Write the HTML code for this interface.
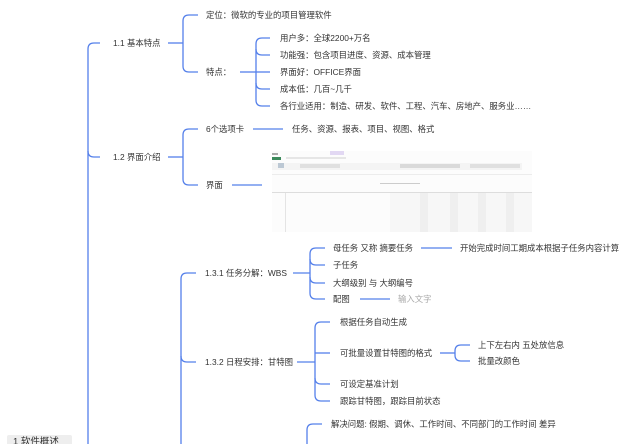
<!DOCTYPE html>
<html><head><meta charset="utf-8"><style>
html,body{margin:0;padding:0;background:#fff;width:640px;height:444px;overflow:hidden}
svg{display:block}
text{font-family:"Liberation Sans","Noto Sans CJK SC",sans-serif;font-size:8.4px;fill:#333;dominant-baseline:central}
path,line{stroke:#5580ea;stroke-width:1.3;fill:none}
</style></head><body>
<svg width="640" height="444" viewBox="0 0 640 444" xmlns="http://www.w3.org/2000/svg">
<path d="M100,43 H94 Q88,43 88,49 V444"/>
<path d="M88,151 Q88,157 94,157 H100"/>
<text x="113" y="43">1.1 基本特点</text>
<path d="M168,43 H183"/>
<path d="M198,15 H189 Q183,15 183,21 V66 Q183,72 189,72 H198"/>
<text x="206" y="15">定位：微软的专业的项目管理软件</text>
<text x="206" y="72">特点：</text>
<path d="M240,72 H256"/>
<path d="M270,38 H262 Q256,38 256,44 V100 Q256,106 262,106 H270"/>
<path d="M256,49 Q256,55 262,55 H270"/>
<path d="M256,72 H270"/>
<path d="M256,83 Q256,89 262,89 H270"/>
<text x="280" y="38">用户多：全球2200+万名</text>
<text x="280" y="55">功能强：包含项目进度、资源、成本管理</text>
<text x="280" y="72">界面好：OFFICE界面</text>
<text x="280" y="89">成本低：几百~几千</text>
<text x="280" y="106">各行业适用：制造、研发、软件、工程、汽车、房地产、服务业……</text>
<text x="113" y="157">1.2 界面介绍</text>
<path d="M168,157 H183"/>
<path d="M198,129 H189 Q183,129 183,135 V179 Q183,185 189,185 H198"/>
<text x="206" y="129">6个选项卡</text>
<path d="M253,129 H283"/>
<text x="292" y="129">任务、资源、报表、项目、视图、格式</text>
<text x="206" y="185">界面</text>
<path d="M232,185 H262"/>
<g>
<rect x="272" y="151" width="260" height="81" fill="#fcfcfc" stroke="none"/>
<rect x="272" y="153" width="6" height="2" fill="#aaa"/>
<rect x="330" y="151" width="14" height="4" fill="#e2d8f3"/>
<rect x="272" y="157" width="9" height="3" fill="#3c8a5c"/>
<rect x="286" y="157" width="60" height="2" fill="#e6e6e6"/>
<rect x="272" y="163" width="250" height="7" fill="#f4f4f4"/>
<rect x="278" y="163" width="6" height="5" fill="#bcc8d4"/>
<rect x="300" y="164" width="40" height="4" fill="#e0e0e0"/>
<rect x="400" y="164" width="60" height="4" fill="#dadada"/>
<rect x="470" y="164" width="50" height="4" fill="#e0e0e0"/>
<rect x="272" y="174" width="260" height="1" fill="#ececec"/>
<rect x="380" y="183" width="40" height="1" fill="#ccc"/>
<rect x="272" y="192" width="260" height="1" fill="#ddd"/>
<rect x="285" y="193" width="1" height="39" fill="#e4e4e4"/>
<rect x="390" y="193" width="142" height="39" fill="#f7f7f7"/>
<rect x="420" y="193" width="8" height="39" fill="#efefef"/>
<rect x="450" y="193" width="8" height="39" fill="#efefef"/>
<rect x="478" y="193" width="8" height="39" fill="#efefef"/>
<rect x="506" y="193" width="8" height="39" fill="#efefef"/>
</g>
<path d="M196,273 H187 Q181,273 181,279 V444"/>
<path d="M181,356 Q181,362 187,362 H196"/>
<text x="205" y="273">1.3.1 任务分解：WBS</text>
<path d="M293,273 H310"/>
<path d="M325,248 H316 Q310,248 310,254 V293 Q310,299 316,299 H325"/>
<path d="M310,259 Q310,265 316,265 H325"/>
<path d="M310,277 Q310,283 316,283 H325"/>
<text x="333" y="248">母任务 又称 摘要任务</text>
<text x="333" y="265">子任务</text>
<text x="333" y="283">大纲级别 与 大纲编号</text>
<text x="333" y="299">配图</text>
<path d="M421,248 H452"/>
<text x="460" y="248">开始完成时间工期成本根据子任务内容计算</text>
<path d="M360,299 H390"/>
<text x="398" y="299" style="fill:#aaa">输入文字</text>
<text x="205" y="362">1.3.2 日程安排：甘特图</text>
<path d="M297,362 H315"/>
<path d="M330,322 H321 Q315,322 315,328 V395 Q315,401 321,401 H330"/>
<path d="M315,353 H330"/>
<path d="M315,378 Q315,384 321,384 H330"/>
<text x="340" y="322">根据任务自动生成</text>
<text x="340" y="353">可批量设置甘特图的格式</text>
<text x="340" y="384">可设定基准计划</text>
<text x="340" y="401">跟踪甘特图，跟踪目前状态</text>
<path d="M440,353 H455"/>
<path d="M470,345 H461 Q455,345 455,351 V355 Q455,361 461,361 H470"/>
<text x="478" y="345">上下左右内 五处放信息</text>
<text x="478" y="361">批量改颜色</text>
<path d="M322,424 H313 Q307,424 307,430 V444"/>
<text x="331" y="424">解决问题: 假期、调休、工作时间、不同部门的工作时间 差异</text>
<rect x="7" y="435" width="65" height="16" rx="2" fill="#eeeeee" stroke="none"/>
<text x="13" y="442" style="font-size:9.5px">1 软件概述</text>
</svg>
</body></html>
